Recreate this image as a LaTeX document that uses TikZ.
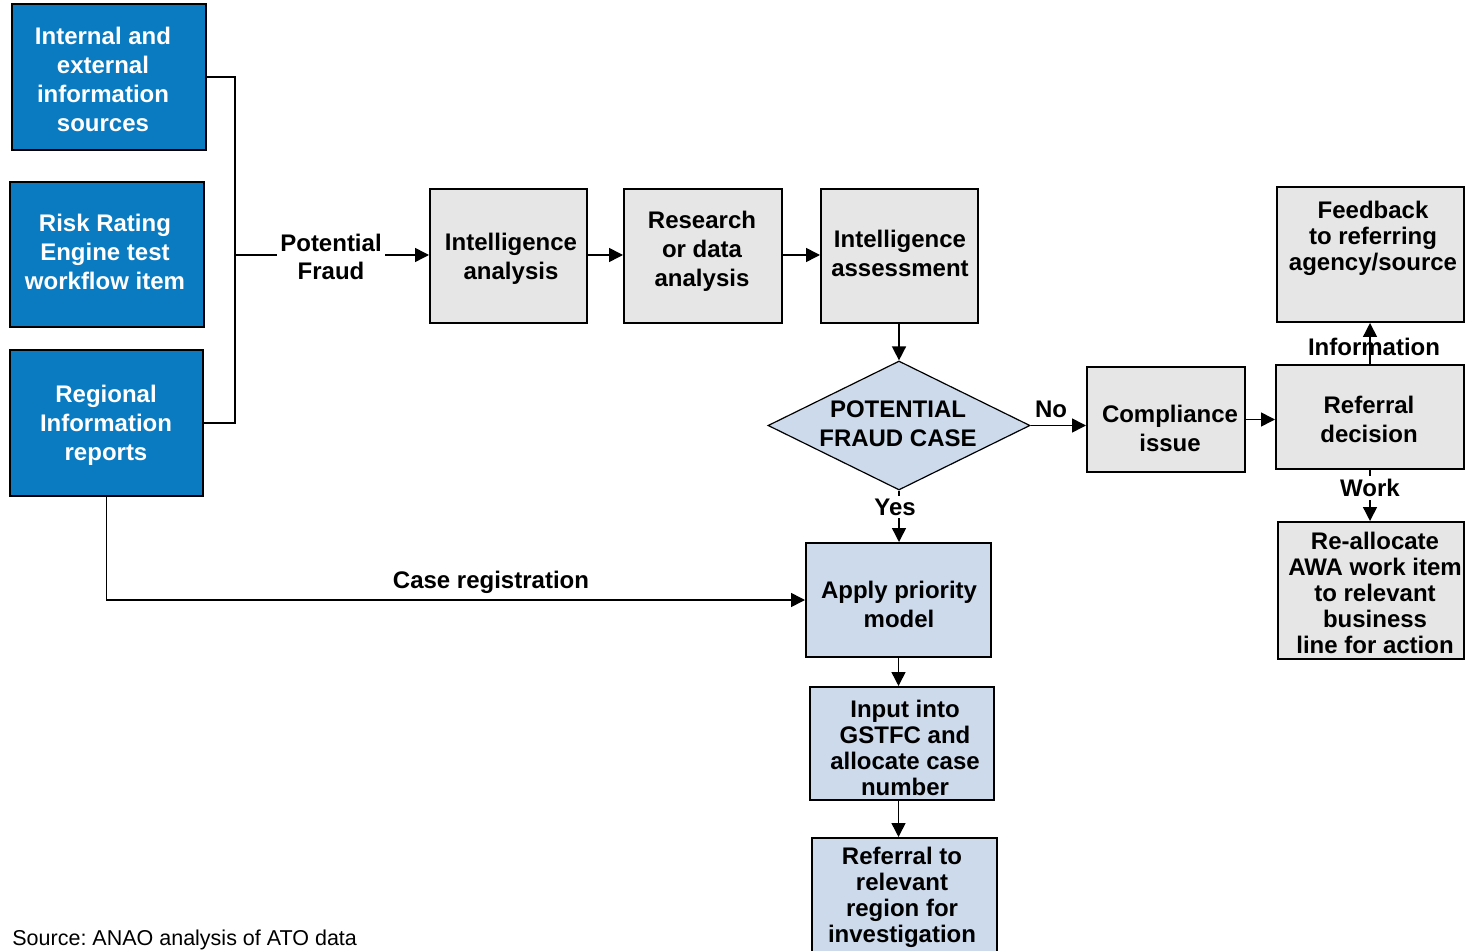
\documentclass[tikz,border=0pt]{standalone}
\usepackage{fontspec}
\setmainfont{Liberation Sans}
\frenchspacing
\usetikzlibrary{shapes.geometric,arrows.meta,fit}
\definecolor{srcblue}{HTML}{0B7BC1}
\definecolor{stepgray}{HTML}{E6E6E6}
\definecolor{caseblue}{HTML}{CCDAEC}
\begin{document}
\begin{tikzpicture}[x=0.5pt,y=-0.5pt,
  boxline/.style={draw=black,line width=1pt,inner sep=0pt},
  srcbox/.style={boxline,fill=srcblue},
  graybox/.style={boxline,fill=stepgray},
  casebox/.style={boxline,fill=caseblue},
  txt/.style={align=center,font=\bfseries\fontsize{12}{14.5}\selectfont,inner sep=0pt},
  wtxt/.style={txt,text=white},
  ttxt/.style={align=center,font=\bfseries\fontsize{12}{13}\selectfont,inner sep=0pt},
  lbl/.style={align=center,font=\bfseries\fontsize{12}{14}\selectfont,inner sep=1.5pt},
  link/.style={line width=0.75pt},
  arr/.style={link,-{Triangle[length=7pt,width=7pt]}}]

\useasboundingbox (0,0) rectangle (1465,951);
\clip (0,0) rectangle (1465,951);

% source boxes
\node[srcbox,fit={(12,4) (206,150)}] (src1) {};
\node[wtxt] (src1t) at (103,79) {Internal and\\external\\information\\sources};
\node[srcbox,fit={(10,182) (204,327)}] (src2) {};
\node[wtxt] (src2t) at (105,252) {Risk Rating\\Engine test\\workflow item};
\node[srcbox,fit={(10,350) (203,496)}] (src3) {};
\node[wtxt] (src3t) at (106,425) {Regional\\Information\\reports};

% intelligence steps
\node[graybox,fit={(430,189) (587,323)}] (ia) {};
\node[txt] (iat) at (511,259) {Intelligence\\analysis};
\node[graybox,fit={(624,189) (782,323)}] (rd) {};
\node[txt] (rdt) at (702,251) {Research\\or data\\analysis};
\node[graybox,fit={(821,189) (978,323)}] (ias) {};
\node[txt] (iast) at (900,253) {Intelligence\\assessment};

% decision
\node[diamond,draw=black,line width=0.6pt,fill=caseblue,inner sep=0pt,
      minimum width=131pt,minimum height=64.5pt] (dec) at (899,425.5) {};
\node[txt] (dect) at (898,424) {POTENTIAL\\FRAUD CASE};

% compliance branch
\node[graybox,fit={(1087,367) (1245,472)}] (comp) {};
\node[txt] (compt) at (1170,428) {Compliance\\issue};
\node[graybox,fit={(1276,365) (1464,469)}] (refd) {};
\node[txt] (refdt) at (1369,419) {Referral\\decision};
\node[graybox,fit={(1277,187) (1464,322)}] (fb) {};
\node[ttxt] (fbt) at (1373,238) {Feedback\\to referring\\agency/source};
\node[graybox,fit={(1278,522) (1464,659)}] (ra) {};
\node[ttxt] (rat) at (1375,593) {Re-allocate\\AWA work item\\to relevant\\business\\line for action};

% case branch
\node[casebox,fit={(806,543) (991,657)}] (ap) {};
\node[txt] (apt) at (899,604) {Apply priority\\model};
\node[casebox,fit={(810,687) (994,800)}] (in) {};
\node[ttxt] (int) at (905,748) {Input into\\GSTFC and\\allocate case\\number};
\node[casebox,fit={(812,838) (997,975)}] (rt) {};
\node[ttxt] (rtt) at (902,897) {Referral to\\relevant\\region for\\investigation};

% connectors
\coordinate (busx) at (235,0);
\coordinate (busmid) at (235,255);
\draw[link] (src1.east) -- (src1.east -| busx) -- (src3.east -| busx) -- (src3.east);
\node[lbl] (pf) at (331,257) {Potential\\Fraud};
\draw[link] (busmid) -- (pf.west |- busmid);
\draw[arr] (pf.east |- busmid) -- (ia.west |- busmid);
\draw[arr] (ia.east |- busmid) -- (rd.west |- busmid);
\draw[arr] (rd.east |- busmid) -- (ias.west |- busmid);
\draw[arr] (ias.south -| dec.north) -- (dec.north);

\draw[arr] (dec.east) -- (dec.east -| comp.west);
\node[lbl] (no) at (1051,409) {No};
\draw[arr] (comp.east) -- (comp.east -| refd.west);
\draw[arr] (refd.north) -- (refd.north |- fb.south);
\node[lbl] (info) at (1374,347) {Information};
\draw[arr] (refd.south) -- (refd.south |- ra.north);
\node[lbl,fill=white] (work) at (1370,488) {Work};

\draw[arr] (dec.south) -- (dec.south |- ap.north);
\node[lbl,fill=white] (yes) at (895,507) {Yes};
\draw[arr] (ap.south) -- (ap.south |- in.north);
\draw[arr] (ap.south |- in.south) -- (ap.south |- rt.north);

\draw[arr] (src3.south) |- (ap.west);
\node[lbl] (creg) at (491,582) {Case registration};

\node[anchor=west,inner sep=0pt,font=\fontsize{10.75}{12}\selectfont] (note) at (12,940) {Source: ANAO analysis of ATO data};
\end{tikzpicture}
\end{document}
